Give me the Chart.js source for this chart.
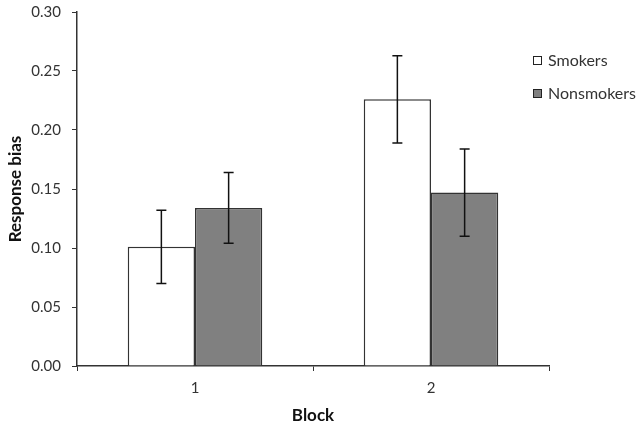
<!DOCTYPE html>
<html>
<head>
<meta charset="utf-8">
<script src="https://cdn.jsdelivr.net/npm/chart.js@4"></script>
<style>
  html, body { margin: 0; padding: 0; background: #fff; }
</style>
</head>
<body>
<canvas id="biasChart" width="641" height="429"></canvas>
<script>
const blocks = [ '1', '2' ]
const groupNames = [ 'Smokers', 'Nonsmokers' ]
const smokersBias = [ 0.101, 0.226 ]
const nonsmokersBias = [ 0.134, 0.147 ]
const smokersErr = [ 0.031, 0.037 ]
const nonsmokersErr = [ 0.030, 0.037 ]
const yTicks = [ 0, 0.05, 0.10, 0.15, 0.20, 0.25, 0.30 ]

const FONT = 'Lato, Calibri, sans-serif'

// draws the +/- error whiskers on each bar
const errorBars = {
  id: 'errorBars',
  afterDatasetsDraw( chart ) {
    const ctx = chart.ctx
    const yScale = chart.scales.y
    chart.data.datasets.forEach( ( ds, i ) => {
      const meta = chart.getDatasetMeta( i )
      meta.data.forEach( ( bar, j ) => {
        const v = ds.data[ j ]
        const e = ds.errors[ j ]
        const top = yScale.getPixelForValue( v + e )
        const bottom = yScale.getPixelForValue( v - e )
        ctx.save()
        ctx.strokeStyle = '#111'
        ctx.lineWidth = 1.5
        ctx.beginPath()
        ctx.moveTo( bar.x, top )
        ctx.lineTo( bar.x, bottom )
        ctx.moveTo( bar.x - 5, top )
        ctx.lineTo( bar.x + 5, top )
        ctx.moveTo( bar.x - 5, bottom )
        ctx.lineTo( bar.x + 5, bottom )
        ctx.stroke()
        ctx.restore()
      } )
    } )
  }
}

// legend sits over the right end of the plot, like the original
const sideLegend = {
  id: 'sideLegend',
  afterDraw( chart ) {
    const ctx = chart.ctx
    ctx.save()
    chart.data.datasets.forEach( ( ds, i ) => {
      const y = 61 + i * 33
      ctx.fillStyle = ds.backgroundColor
      ctx.strokeStyle = '#222'
      ctx.lineWidth = 1
      ctx.fillRect( 533.5, y - 4.5, 8, 8 )
      ctx.strokeRect( 533.5, y - 4.5, 8, 8 )
      ctx.fillStyle = '#333'
      ctx.font = '16px ' + FONT
      ctx.textBaseline = 'middle'
      ctx.fillText( ds.label, 548, y )
    } )
    ctx.restore()
  }
}

new Chart( document.getElementById( 'biasChart' ), {
  type: 'bar',
  data: {
    labels: blocks,
    datasets: [ {
      label: groupNames[ 0 ],
      data: smokersBias,
      errors: smokersErr,
      backgroundColor: '#ffffff',
      borderColor: '#333333',
      borderWidth: 1.5
    }, {
      label: groupNames[ 1 ],
      data: nonsmokersBias,
      errors: nonsmokersErr,
      backgroundColor: '#808080',
      borderColor: '#333333',
      borderWidth: 1.5
    } ]
  },
  options: {
    responsive: false,
    animation: false,
    layout: { padding: { top: 12, right: 92, bottom: 0, left: 0 } },
    datasets: { bar: { categoryPercentage: 0.57, barPercentage: 1.0 } },
    plugins: {
      legend: { display: false },
      tooltip: { enabled: false }
    },
    scales: {
      x: {
        grid: { offset: true, drawOnChartArea: false, tickLength: 5, color: '#333' },
        border: { color: '#333', width: 1.5 },
        ticks: { padding: 8, color: '#333', font: { family: FONT, size: 15 } },
        title: {
          display: true, text: 'Block', color: '#111',
          font: { family: FONT, size: 17, weight: 'bold' },
          padding: { top: 0, bottom: 3 }
        },
        afterFit( scale ) { scale.height = 63 }
      },
      y: {
        min: 0,
        max: 0.3,
        afterBuildTicks( scale ) { scale.ticks = yTicks.map( v => ( { value: v } ) ) },
        grid: { drawOnChartArea: false, tickLength: 5, color: '#333' },
        border: { color: '#333', width: 1.5 },
        ticks: {
          padding: 11, color: '#333', font: { family: FONT, size: 15 },
          callback: v => Number( v ).toFixed( 2 )
        },
        title: {
          display: true, text: 'Response bias', color: '#111',
          font: { family: FONT, size: 17, weight: 'bold' },
          padding: { top: 5, bottom: 0 }
        },
        afterFit( scale ) {
          scale.width = 77
          scale.paddingTop = 0
          scale.paddingBottom = 0
        }
      }
    }
  },
  plugins: [ errorBars, sideLegend ]
} )
</script>
</body>
</html>
